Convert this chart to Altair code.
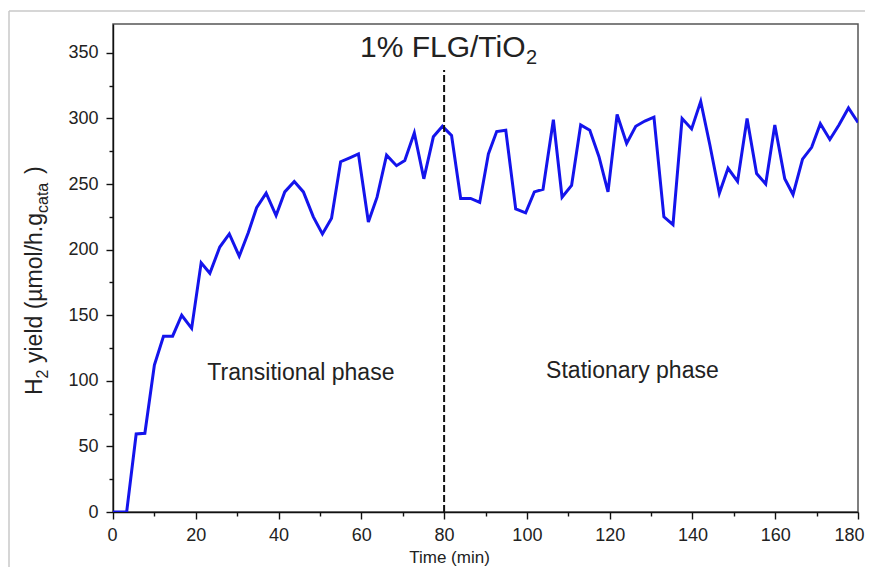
import altair as alt
import pandas as pd

# ---- data ----
time_min = [0, 3.3, 5.6, 7.7, 10, 12.2, 14.4, 16.6, 19, 21.3, 23.4, 25.8, 28.1, 30.5,
            32.7, 34.7, 37, 39.4, 41.5, 43.8, 46, 48.4, 50.6, 52.8, 55, 57.2, 59.3,
            61.7, 63.8, 66.1, 68.5, 70.5, 72.8, 75.1, 77.4, 79.6, 81.8, 84, 86.4,
            88.6, 90.7, 92.7, 94.9, 97.3, 99.7, 101.8, 103.9, 106.4, 108.5, 110.8,
            113, 115.2, 117.4, 119.6, 121.8, 124.1, 126.3, 128.5, 130.7, 133.1,
            135.3, 137.5, 139.8, 142, 144.2, 146.5, 148.6, 150.9, 153.2, 155.5,
            157.7, 159.9, 162.3, 164.3, 166.6, 168.8, 170.9, 173.2, 175.4, 177.7, 180]
h2_yield = [0, 0, 59.5, 60, 112, 134, 134, 150, 140, 190, 182, 202, 212, 195,
            213, 232, 243, 226, 244, 252, 244, 225, 212, 224, 267, 270, 273,
            221, 240, 272, 264, 268, 289, 254, 286, 294, 287, 239, 239,
            236, 273, 290, 291, 231, 228, 244, 246, 299, 240, 249,
            295, 291, 271, 244, 303, 281, 294, 298, 301, 225,
            219, 300, 292, 313, 280, 243, 262, 252, 300, 258,
            250, 295, 254, 242, 269, 278, 296, 284, 295, 308, 297]

phase_labels = ["Transitional phase", "Stationary phase"]
phase_x = [45.4, 125.5]
phase_y = [106, 107.5]

divider_x = [80]
divider_top = [337]

x_major = [0, 20, 40, 60, 80, 100, 120, 140, 160, 180]
x_minor = [10, 30, 50, 70, 90, 110, 130, 150, 170]
y_major = [0, 50, 100, 150, 200, 250, 300, 350]
y_minor = [25, 75, 125, 175, 225, 275, 325]

df = pd.DataFrame({"t": time_min, "y": h2_yield})
ann = pd.DataFrame({"label": phase_labels, "t": phase_x, "y": phase_y})
div = pd.DataFrame({"t": divider_x, "y0": [0], "y1": divider_top})

FONT = "Liberation Sans"
xscale = alt.Scale(domain=[0, 180], nice=False, zero=False)
yscale = alt.Scale(domain=[0, 372], nice=False)

line = alt.Chart(df).mark_line(color="#1414ec", strokeWidth=3, clip=True).encode(
    x=alt.X("t:Q", scale=xscale,
            axis=alt.Axis(orient="bottom", values=x_major, format="d", grid=False,
                          tickSize=7, tickWidth=1.4, tickColor="#111",
                          domainColor="#111", domainWidth=1.4,
                          labelFontSize=18, labelFont=FONT, labelColor="#222",
                          labelPadding=7, labelFlush=True, labelFlushOffset=6,
                          title="Time (min)", titleFont=FONT, titleFontSize=17,
                          titleFontWeight="normal", titleColor="#222",
                          titleX=336, titleY=50, titleBaseline="alphabetic")),
    y=alt.Y("y:Q", scale=yscale,
            axis=alt.Axis(orient="left", values=y_major, format="d", grid=False,
                          tickSize=7, tickWidth=1.4, tickColor="#111",
                          domainColor="#111", domainWidth=1.4,
                          labelFontSize=18, labelFont=FONT, labelColor="#222",
                          labelPadding=8, title=None)),
)

minor = alt.Chart(df).mark_point(opacity=0).encode(
    x=alt.X("t:Q", scale=xscale,
            axis=alt.Axis(orient="bottom", values=x_minor, labels=False, grid=False,
                          tickSize=4, tickWidth=1.4, tickColor="#111",
                          domain=False, title=None)),
    y=alt.Y("y:Q", scale=yscale,
            axis=alt.Axis(orient="left", values=y_minor, labels=False, grid=False,
                          tickSize=4, tickWidth=1.4, tickColor="#111",
                          domain=False, title=None)),
)

divider = alt.Chart(div).mark_rule(color="#111", strokeWidth=2, strokeDash=[7, 3]).encode(
    x=alt.X("t:Q", scale=xscale, axis=None),
    y=alt.Y("y0:Q", scale=yscale, axis=None),
    y2="y1:Q")

phases = alt.Chart(ann).mark_text(font=FONT, fontSize=23, color="#222").encode(
    x=alt.X("t:Q", scale=xscale, axis=None),
    y=alt.Y("y:Q", scale=yscale, axis=None),
    text="label:N")

def piece(txt, x, y, size, angle=0, baseline="alphabetic"):
    return alt.Chart(pd.DataFrame({"s": [txt]})).mark_text(
        font=FONT, fontSize=size, color="#222", align="left",
        baseline=baseline, angle=angle).encode(
        text="s:N", x=alt.value(x), y=alt.value(y))

# y-axis title with subscripts (rotated, reading upward)
ytitle = [
    piece("H", -71, 371, 23, 270),
    piece("2", -65, 354.4, 16, 270),
    piece("yield (µmol/h.g", -71, 339, 23, 270),
    piece("cata", -65, 189, 16, 270),
    piece(")", -71, 150, 23, 270),
]
# panel title with subscript
title = [
    piece("1% FLG/TiO", 247, 33, 30),
    piece("2", 413, 40, 20),
]

border = alt.Chart(pd.DataFrame({"a": [0]})).mark_rule(color="#c8c8c8", strokeWidth=1.5).encode(
    x=alt.value(-104), x2=alt.value(760), y=alt.value(-13))
border2 = alt.Chart(pd.DataFrame({"a": [0]})).mark_rule(color="#c8c8c8", strokeWidth=1.5).encode(
    x=alt.value(-104), y=alt.value(-13), y2=alt.value(560))

chart = alt.layer(line, minor, divider, phases, *ytitle, *title, border, border2).resolve_axis(
    x="independent", y="independent"
).properties(
    width=745, height=488,
    autosize=alt.AutoSizeParams(type="none"),
    padding={"left": 105, "top": 16, "right": 7, "bottom": 55},
    background="white",
).configure_view(stroke="#555", strokeWidth=1.5)

chart.save("out.html", embed_options={"renderer": "svg", "actions": False})
